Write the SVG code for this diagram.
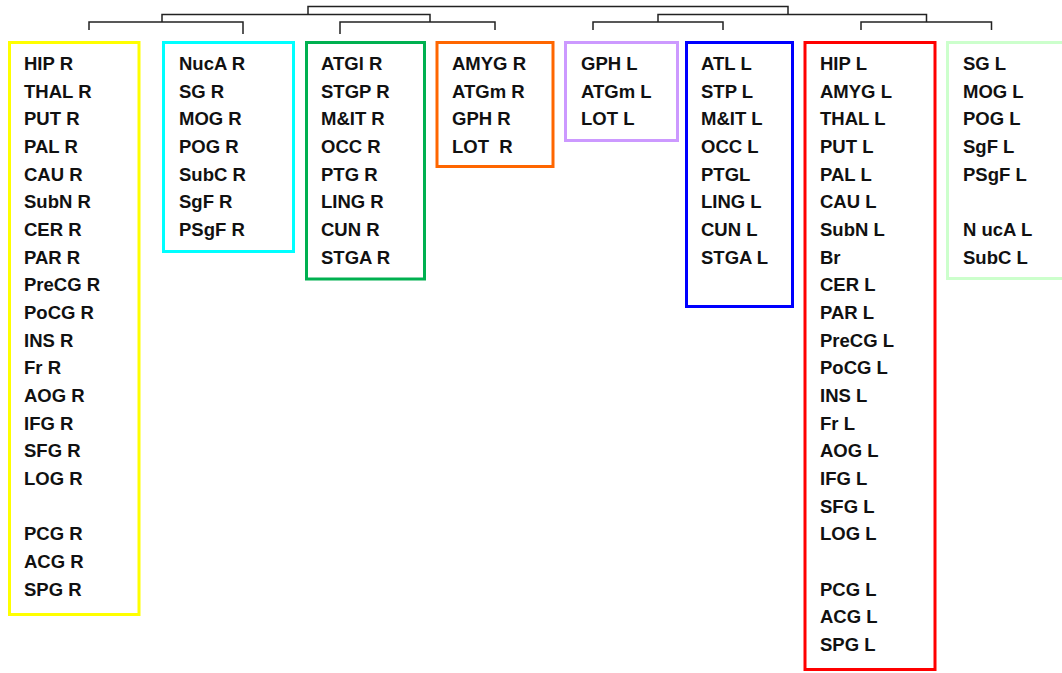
<svg xmlns="http://www.w3.org/2000/svg" width="1062" height="673" viewBox="0 0 1062 673">
<style>
.box{fill:none;stroke-width:3}
.t{font-family:"Liberation Sans",Arial,sans-serif;font-weight:bold;font-size:18.5px;fill:#111}
.d{fill:none;stroke:#222;stroke-width:1.5}
</style>
<rect width="1062" height="673" fill="#fff"/>
<g id="connectors">
<path class="d" d="M308,14.5 V6.5 H788 V14.5"/>
<path class="d" d="M162,22 V14.5 H430 V22"/>
<path class="d" d="M658,22 V14.5 H926.5 V22"/>
<path class="d" d="M89,30 V22 H243 V34"/>
<path class="d" d="M340,34 V22 H495 V30"/>
<path class="d" d="M593,30 V22 H723 V30"/>
<path class="d" d="M861,30 V22 H991.5 V30"/>
</g>
<g id="yellow">
<rect class="box" x="9.5" y="42.5" width="129.5" height="572" stroke="#FFFF00"/>
<text class="t" x="24" y="70">HIP R</text>
<text class="t" x="24" y="97.66">THAL R</text>
<text class="t" x="24" y="125.32">PUT R</text>
<text class="t" x="24" y="152.98">PAL R</text>
<text class="t" x="24" y="180.64">CAU R</text>
<text class="t" x="24" y="208.3">SubN R</text>
<text class="t" x="24" y="235.96">CER R</text>
<text class="t" x="24" y="263.62">PAR R</text>
<text class="t" x="24" y="291.28">PreCG R</text>
<text class="t" x="24" y="318.94">PoCG R</text>
<text class="t" x="24" y="346.6">INS R</text>
<text class="t" x="24" y="374.26">Fr R</text>
<text class="t" x="24" y="401.92">AOG R</text>
<text class="t" x="24" y="429.58">IFG R</text>
<text class="t" x="24" y="457.24">SFG R</text>
<text class="t" x="24" y="484.9">LOG R</text>
<text class="t" x="24" y="540.22">PCG R</text>
<text class="t" x="24" y="567.88">ACG R</text>
<text class="t" x="24" y="595.54">SPG R</text>
</g>
<g id="cyan">
<rect class="box" x="163.5" y="42.5" width="130" height="209" stroke="#00FFFF"/>
<text class="t" x="179" y="70">NucA R</text>
<text class="t" x="179" y="97.66">SG R</text>
<text class="t" x="179" y="125.32">MOG R</text>
<text class="t" x="179" y="152.98">POG R</text>
<text class="t" x="179" y="180.64">SubC R</text>
<text class="t" x="179" y="208.3">SgF R</text>
<text class="t" x="179" y="235.96">PSgF R</text>
</g>
<g id="green">
<rect class="box" x="306.5" y="42.5" width="118" height="236.5" stroke="#00B050"/>
<text class="t" x="321" y="70">ATGl R</text>
<text class="t" x="321" y="97.66">STGP R</text>
<text class="t" x="321" y="125.32">M&amp;IT R</text>
<text class="t" x="321" y="152.98">OCC R</text>
<text class="t" x="321" y="180.64">PTG R</text>
<text class="t" x="321" y="208.3">LING R</text>
<text class="t" x="321" y="235.96">CUN R</text>
<text class="t" x="321" y="263.62">STGA R</text>
</g>
<g id="orange">
<rect class="box" x="437" y="42.5" width="116" height="124" stroke="#FF6600"/>
<text class="t" x="452" y="70">AMYG R</text>
<text class="t" x="452" y="97.66">ATGm R</text>
<text class="t" x="452" y="125.32">GPH R</text>
<text class="t" x="452" y="152.98" xml:space="preserve">LOT  R</text>
</g>
<g id="purple">
<rect class="box" x="565.5" y="42.5" width="112" height="98" stroke="#CC99FF"/>
<text class="t" x="581" y="70">GPH L</text>
<text class="t" x="581" y="97.66">ATGm L</text>
<text class="t" x="581" y="125.32">LOT L</text>
</g>
<g id="blue">
<rect class="box" x="686.5" y="42.5" width="106" height="264" stroke="#0000FF"/>
<text class="t" x="701" y="70">ATL L</text>
<text class="t" x="701" y="97.66">STP L</text>
<text class="t" x="701" y="125.32">M&amp;IT L</text>
<text class="t" x="701" y="152.98">OCC L</text>
<text class="t" x="701" y="180.64">PTGL</text>
<text class="t" x="701" y="208.3">LING L</text>
<text class="t" x="701" y="235.96">CUN L</text>
<text class="t" x="701" y="263.62">STGA L</text>
</g>
<g id="red">
<rect class="box" x="805" y="42.5" width="130" height="627" stroke="#FF0000"/>
<text class="t" x="820" y="70">HIP L</text>
<text class="t" x="820" y="97.66">AMYG L</text>
<text class="t" x="820" y="125.32">THAL L</text>
<text class="t" x="820" y="152.98">PUT L</text>
<text class="t" x="820" y="180.64">PAL L</text>
<text class="t" x="820" y="208.3">CAU L</text>
<text class="t" x="820" y="235.96">SubN L</text>
<text class="t" x="820" y="263.62">Br</text>
<text class="t" x="820" y="291.28">CER L</text>
<text class="t" x="820" y="318.94">PAR L</text>
<text class="t" x="820" y="346.6">PreCG L</text>
<text class="t" x="820" y="374.26">PoCG L</text>
<text class="t" x="820" y="401.92">INS L</text>
<text class="t" x="820" y="429.58">Fr L</text>
<text class="t" x="820" y="457.24">AOG L</text>
<text class="t" x="820" y="484.9">IFG L</text>
<text class="t" x="820" y="512.56">SFG L</text>
<text class="t" x="820" y="540.22">LOG L</text>
<text class="t" x="820" y="595.54">PCG L</text>
<text class="t" x="820" y="623.2">ACG L</text>
<text class="t" x="820" y="650.86">SPG L</text>
</g>
<g id="lightgreen">
<rect class="box" x="947.5" y="42.5" width="130" height="236" stroke="#CCFFCC"/>
<text class="t" x="963" y="70">SG L</text>
<text class="t" x="963" y="97.66">MOG L</text>
<text class="t" x="963" y="125.32">POG L</text>
<text class="t" x="963" y="152.98">SgF L</text>
<text class="t" x="963" y="180.64">PSgF L</text>
<text class="t" x="963" y="235.96">N ucA L</text>
<text class="t" x="963" y="263.62">SubC L</text>
</g>
</svg>
